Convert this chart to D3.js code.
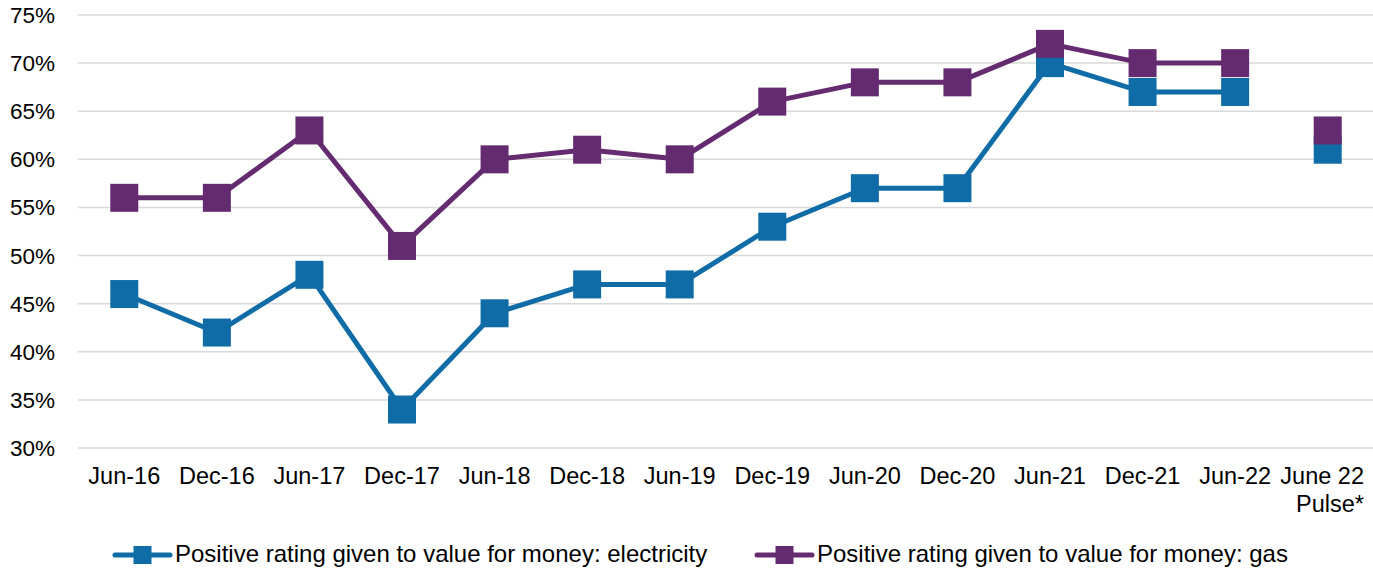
<!DOCTYPE html>
<html><head><meta charset="utf-8">
<script src="https://cdn.jsdelivr.net/npm/d3@7"></script>
<style>body{margin:0;background:#fff;font-family:Arial,"Liberation Sans",sans-serif;}</style>
</head><body>
<svg id="c" width="1373" height="569"></svg>
<script>
const categories = ["Jun-16","Dec-16","Jun-17","Dec-17","Jun-18","Dec-18","Jun-19","Dec-19","Jun-20","Dec-20","Jun-21","Dec-21","Jun-22","June 22\nPulse*"];
const electricity = [46,42,48,34,44,47,47,53,57,57,70,67,67,61];
const gas = [56,56,63,51,60,61,60,66,68,68,72,70,70,63];
const yTicks = [30,35,40,45,50,55,60,65,70,75];
const seriesNames = ["Positive rating given to value for money: electricity","Positive rating given to value for money: gas"];
const colors = ["#0F6CA6","#652B70"];

(function(){
const svg = d3.select("#c");
const pl = 78, pr = 1374, pt = 15, pb = 448;
const x = d3.scaleBand().domain(d3.range(categories.length)).range([pl, pr]);
const y = d3.scaleLinear().domain([30,75]).range([pb, pt]);
const cx = i => x(i) + x.bandwidth()/2;

// gridlines
svg.append("g").selectAll("line").data(yTicks).join("line")
  .attr("x1", pl).attr("x2", pr)
  .attr("y1", d=>y(d)).attr("y2", d=>y(d))
  .attr("stroke","#d9d9d9").attr("stroke-width",1.5);

// y labels
svg.append("g").selectAll("text").data(yTicks).join("text")
  .attr("x", 55).attr("y", d=>y(d)+8)
  .attr("text-anchor","end").attr("font-size",22.5).attr("fill","#000")
  .text(d=>d+"%");

// x labels
const xl = svg.append("g");
categories.forEach((c,i)=>{
  const lines = c.split("\n");
  const last = i === categories.length-1;
  const t = xl.append("text").attr("font-size",23.5).attr("fill","#000")
    .attr("text-anchor", last ? "end" : "middle");
  lines.forEach((ln,j)=>{
    t.append("tspan").attr("x", last ? 1364 : cx(i)).attr("y", 484 + j*28).text(ln);
  });
});

const S = 28;
[electricity, gas].forEach((vals, k)=>{
  const g = svg.append("g");
  const mainIdx = d3.range(vals.length-1);
  const line = d3.line().x(i=>cx(i)).y(i=>y(vals[i]));
  g.append("path").datum(mainIdx).attr("d", line)
    .attr("fill","none").attr("stroke",colors[k]).attr("stroke-width",5)
    .attr("stroke-linejoin","round");
  g.selectAll("rect").data(vals).join("rect")
    .attr("x",(d,i)=>cx(i)-S/2).attr("y",d=>y(d)-S/2)
    .attr("width",S).attr("height",S).attr("fill",colors[k]);
});

// legend
const legX = [115, 757];
seriesNames.forEach((n,k)=>{
  const g = svg.append("g");
  g.append("line").attr("x1",legX[k]).attr("x2",legX[k]+55).attr("y1",555).attr("y2",555)
    .attr("stroke",colors[k]).attr("stroke-width",5).attr("stroke-linecap","round");
  g.append("rect").attr("x",legX[k]+27.5-9).attr("y",555-9).attr("width",18).attr("height",18).attr("fill",colors[k]);
  g.append("text").attr("x",legX[k]+60).attr("y",562).attr("font-size",24).attr("fill","#000").text(n);
});
})();
</script>
</body></html>
